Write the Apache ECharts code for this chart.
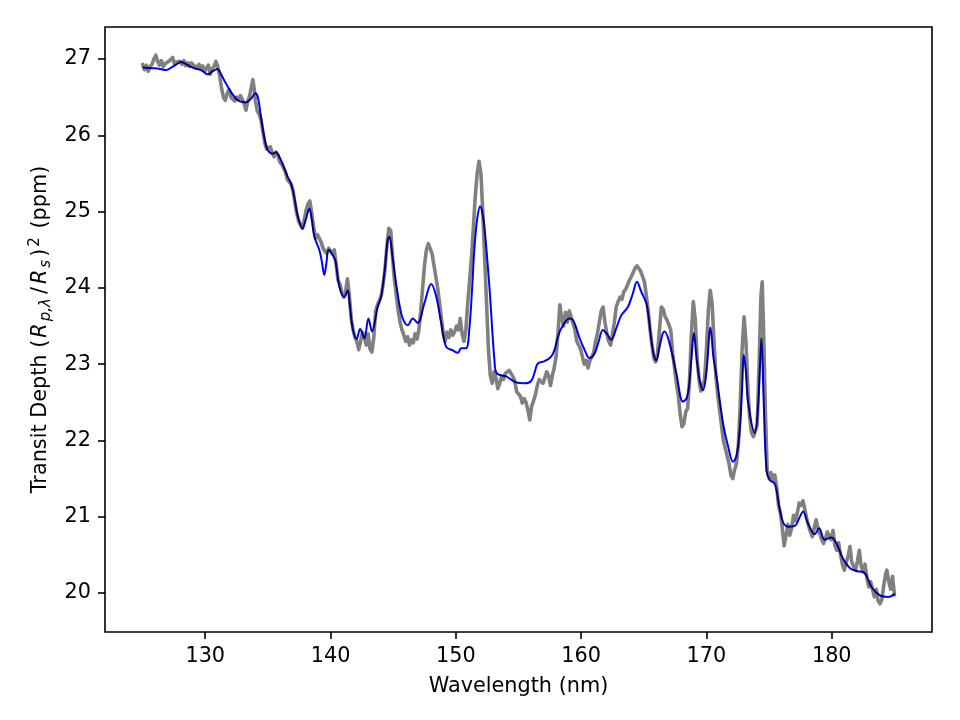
<!DOCTYPE html>
<html>
<head>
<meta charset="utf-8">
<script src="https://cdn.jsdelivr.net/npm/echarts@6/dist/echarts.min.js"></script>
<style>
  html, body { margin: 0; padding: 0; background: #ffffff; }
  #wrap { position: relative; width: 960px; height: 720px; background: #ffffff; }
  #c1, #c2 { position: absolute; left: 0; top: 0; width: 960px; height: 720px; }
  #c2 { mix-blend-mode: multiply; }
</style>
</head>
<body>
<div id="wrap"><div id="c1"></div><div id="c2"></div></div>
<script>
// ---- data ----
const xTicks = [130, 140, 150, 160, 170, 180];
const yTicks = [20, 21, 22, 23, 24, 25, 26, 27];

// observed (gray) spectrum
const grayWavelength = [
125.0,125.15,125.3,125.45,125.6,125.75,125.9,126.05,126.2,126.35,126.5,126.65,126.8,126.95,127.1,127.25,127.4,127.55,127.7,127.85,
128.0,128.15,128.3,128.45,128.6,128.75,128.9,129.05,129.2,129.35,129.5,129.65,129.8,129.95,130.1,130.25,130.4,130.55,130.7,130.85,
131.0,131.15,131.3,131.45,131.6,131.75,131.9,132.05,132.2,132.35,132.5,132.65,132.8,132.95,133.1,133.25,133.4,133.55,133.7,133.8,
133.9,134.0,134.15,134.3,134.45,134.6,134.75,134.9,135.05,135.2,135.35,135.5,135.65,135.8,135.95,136.1,136.25,136.4,136.55,136.7,
136.85,137.0,137.15,137.3,137.45,137.6,137.75,137.9,138.05,138.2,138.35,138.5,138.65,138.8,138.95,139.1,139.25,139.4,139.55,139.7,
139.85,140.0,140.15,140.3,140.45,140.6,140.75,140.9,141.05,141.2,141.35,141.5,141.65,141.8,141.95,142.1,142.25,142.4,142.55,142.7,
142.85,143.0,143.15,143.3,143.45,143.6,143.75,143.9,144.05,144.2,144.35,144.5,144.65,144.8,144.95,145.1,145.25,145.4,145.55,145.7,
145.85,146.0,146.15,146.3,146.45,146.6,146.75,146.9,147.05,147.2,147.35,147.5,147.65,147.8,147.95,148.1,148.25,148.4,148.55,148.7,
148.85,149.0,149.15,149.3,149.45,149.6,149.75,149.9,150.05,150.2,150.35,150.5,150.65,150.8,150.95,151.1,151.25,151.4,151.55,151.7,
151.85,152.0,152.15,152.3,152.45,152.6,152.75,152.9,153.05,153.2,153.35,153.5,153.65,153.8,153.95,154.1,154.25,154.4,154.55,154.7,
154.85,155.0,155.15,155.3,155.45,155.6,155.75,155.9,156.05,156.2,156.35,156.5,156.65,156.8,156.95,157.1,157.25,157.4,157.55,157.7,
157.85,158.0,158.15,158.3,158.45,158.6,158.75,158.9,159.05,159.2,159.35,159.5,159.65,159.8,159.95,160.1,160.25,160.4,160.55,160.7,
160.85,161.0,161.15,161.3,161.45,161.6,161.75,161.9,162.05,162.2,162.35,162.5,162.65,162.8,162.95,163.1,163.25,163.4,163.55,163.7,
163.85,164.0,164.15,164.3,164.45,164.6,164.75,164.9,165.05,165.2,165.35,165.5,165.65,165.8,165.95,166.1,166.25,166.4,166.55,166.7,
166.85,167.0,167.15,167.3,167.45,167.6,167.75,167.9,168.05,168.2,168.35,168.5,168.65,168.8,168.95,169.1,169.25,169.4,169.55,169.7,
169.85,170.0,170.15,170.3,170.45,170.6,170.75,170.9,171.05,171.2,171.35,171.5,171.65,171.8,171.95,172.1,172.25,172.4,172.55,172.7,
172.85,173.0,173.15,173.3,173.45,173.6,173.75,173.9,174.05,174.2,174.35,174.45,174.55,174.7,174.85,175.0,175.15,175.3,175.45,175.6,
175.75,175.9,176.05,176.2,176.35,176.5,176.65,176.8,176.95,177.1,177.25,177.4,177.55,177.7,177.85,178.0,178.15,178.3,178.45,178.6,
178.75,178.9,179.05,179.2,179.35,179.5,179.65,179.8,179.95,180.1,180.25,180.4,180.55,180.7,180.85,181.0,181.15,181.3,181.45,181.6,
181.75,181.9,182.05,182.2,182.35,182.5,182.65,182.8,182.95,183.1,183.25,183.4,183.55,183.7,183.85,184.0,184.15,184.3,184.4,184.55,
184.7,184.85,185.0
];
const grayDepth = [
26.93,26.86,26.92,26.84,26.90,26.93,27.00,27.05,26.97,26.92,26.98,26.90,26.94,26.92,26.97,26.99,27.02,26.93,26.96,26.94,
26.97,26.93,26.98,26.91,26.95,26.90,26.95,26.92,26.94,26.89,26.93,26.88,26.91,26.84,26.86,26.92,26.80,26.87,26.90,26.97,
26.90,26.78,26.62,26.50,26.46,26.55,26.60,26.50,26.52,26.45,26.50,26.47,26.52,26.53,26.42,26.33,26.45,26.52,26.65,26.73,
26.62,26.46,26.32,26.28,26.20,26.05,25.90,25.82,25.83,25.85,25.76,25.72,25.78,25.74,25.65,25.62,25.60,25.52,25.42,25.40,
25.36,25.28,25.12,24.98,24.88,24.82,24.78,24.90,25.02,25.10,25.14,24.98,24.80,24.65,24.70,24.70,24.60,24.52,24.48,24.45,
24.52,24.50,24.45,24.50,24.30,24.10,24.05,23.95,23.88,23.95,24.12,23.90,23.60,23.45,23.35,23.30,23.19,23.30,23.42,23.35,
23.25,23.40,23.20,23.16,23.35,23.70,23.78,23.80,23.90,24.05,24.25,24.55,24.78,24.75,24.40,24.10,23.90,23.70,23.55,23.45,
23.38,23.30,23.36,23.25,23.32,23.28,23.40,23.33,23.45,23.70,24.00,24.30,24.50,24.58,24.58,24.45,24.30,24.15,24.00,23.80,
23.60,23.40,23.30,23.42,23.35,23.45,23.38,23.42,23.50,23.45,23.60,23.40,23.30,23.45,23.80,24.10,24.40,24.80,25.20,25.50,
25.66,25.50,25.00,24.40,23.80,23.20,22.85,22.75,22.90,22.82,22.68,22.75,22.84,22.80,22.88,22.90,22.92,22.88,22.84,22.78,
22.64,22.62,22.58,22.49,22.55,22.50,22.40,22.27,22.45,22.52,22.60,22.72,22.80,22.78,22.75,22.82,22.90,22.85,22.72,22.85,
22.95,23.10,23.40,23.78,23.60,23.50,23.68,23.55,23.70,23.62,23.60,23.45,23.30,23.28,23.20,23.10,23.00,23.05,22.95,23.05,
23.10,23.15,23.30,23.40,23.55,23.70,23.75,23.55,23.40,23.30,23.25,23.40,23.55,23.75,23.82,23.88,23.85,23.95,23.98,24.00,
24.10,24.15,24.20,24.26,24.29,24.28,24.22,24.20,24.08,23.90,23.70,23.45,23.25,23.08,23.03,23.15,23.45,23.75,23.72,23.62,
23.58,23.56,23.45,23.15,22.95,22.75,22.60,22.35,22.18,22.22,22.38,22.42,22.80,23.40,23.82,23.60,23.10,22.80,22.65,22.63,
22.80,23.20,23.70,23.97,23.80,23.30,22.85,22.60,22.40,22.20,22.00,21.90,21.80,21.70,21.55,21.50,21.62,21.70,21.95,22.50,
23.20,23.62,23.30,22.70,22.30,22.10,22.05,22.03,22.20,23.00,23.90,24.08,23.50,22.40,21.60,21.50,21.58,21.48,21.55,21.40,
21.15,21.05,20.85,20.62,20.60,20.90,20.76,20.85,21.02,20.95,21.05,21.18,21.15,21.21,21.10,20.98,20.88,20.80,20.74,20.85,
20.96,20.85,20.78,20.70,20.65,20.72,20.80,20.78,20.70,20.82,20.62,20.56,20.66,20.50,20.38,20.30,20.40,20.48,20.61,20.40,
20.35,20.30,20.42,20.56,20.35,20.28,20.38,20.20,20.08,20.15,20.05,19.95,20.05,19.90,19.86,19.92,20.10,20.25,20.30,20.15,
20.05,20.22,19.98
];

// smoothed (blue) spectrum
const blueWavelength = [
125.0,125.8,126.4,126.86,127.4,127.8,128.06,128.4,128.72,129.12,129.66,130.05,130.2,130.58,130.98,131.2,131.52,132.05,132.58,132.9,
133.2,133.65,133.99,134.2,134.45,134.71,134.98,135.38,135.65,135.91,136.17,136.57,136.84,137.11,137.37,137.77,138.0,138.31,138.5,138.71,
139.1,139.3,139.5,139.65,139.85,140.17,140.4,140.7,141.1,141.37,141.55,141.77,142.08,142.36,142.7,143.02,143.31,143.76,144.03,144.3,
144.56,144.7,144.95,145.23,145.63,145.9,146.16,146.56,146.96,147.49,148.03,148.43,148.83,149.22,149.76,150.16,150.42,150.82,151.09,151.3,
151.49,151.7,151.94,152.1,152.28,152.68,153.08,153.27,154.02,154.82,155.48,156.01,156.3,156.54,157.08,157.61,157.9,158.14,158.55,159.07,
159.34,159.6,159.88,160.27,160.67,161.07,161.4,161.73,162.05,162.4,162.8,163.2,163.73,164.13,164.45,164.8,165.2,165.4,165.6,165.8,
166.0,166.26,166.5,166.66,167.06,167.6,168.12,168.4,168.6,168.79,169.0,169.2,169.46,169.73,170.0,170.32,170.55,170.8,171.33,171.73,
172.12,172.4,172.66,172.85,172.98,173.15,173.33,173.86,174.1,174.25,174.39,174.55,174.79,175.06,175.46,175.85,176.11,176.5,177.05,177.4,
177.71,178.11,178.64,178.99,179.44,179.98,180.38,180.9,181.44,181.97,182.64,183.17,183.84,184.5,185.03
];
const blueDepth = [
26.89,26.88,26.87,26.855,26.90,26.94,26.96,26.94,26.91,26.88,26.855,26.81,26.80,26.84,26.87,26.82,26.72,26.57,26.46,26.44,
26.43,26.48,26.55,26.50,26.24,25.98,25.81,25.76,25.78,25.72,25.63,25.46,25.37,25.19,24.95,24.78,24.88,25.04,24.90,24.67,
24.50,24.35,24.17,24.30,24.50,24.43,24.35,24.02,23.88,23.97,23.75,23.47,23.33,23.46,23.34,23.60,23.43,23.75,23.88,24.20,
24.63,24.67,24.40,24.06,23.67,23.55,23.51,23.60,23.54,23.80,24.05,23.89,23.54,23.23,23.18,23.15,23.21,23.21,23.49,24.00,
24.54,24.90,25.07,25.00,24.80,24.01,23.05,22.88,22.84,22.76,22.75,22.78,22.90,23.01,23.04,23.10,23.20,23.36,23.51,23.60,
23.58,23.48,23.34,23.19,23.08,23.14,23.30,23.45,23.40,23.32,23.47,23.64,23.75,23.93,24.08,23.95,23.80,23.60,23.32,23.12,
23.05,23.23,23.40,23.43,23.27,22.88,22.51,22.55,22.70,23.05,23.41,23.10,22.79,22.66,22.90,23.48,23.10,22.84,22.22,21.92,
21.72,21.80,22.14,22.70,23.12,22.90,22.49,22.10,22.40,22.90,23.34,22.60,21.61,21.48,21.43,21.10,20.93,20.87,20.88,20.98,
21.07,20.91,20.77,20.85,20.70,20.73,20.65,20.45,20.33,20.29,20.26,20.08,19.97,19.95,19.99
];

const grayData = grayWavelength.map((w, i) => [w, grayDepth[i]]);
const blueData = blueWavelength.map((w, i) => [w, blueDepth[i]]);

const FONT = 'DejaVu Sans';
const FS = 20.8;

function baseOption(showAxes) {
  return {
    animation: false,
    backgroundColor: showAxes ? '#ffffff' : 'transparent',
    grid: {
      left: 105, right: 28, top: 27, bottom: 88,
      show: showAxes, borderColor: '#000000', borderWidth: 1.6, backgroundColor: 'transparent'
    },
    xAxis: {
      type: 'value', min: 122, max: 188, show: showAxes,
      name: 'Wavelength (nm)', nameLocation: 'middle', nameGap: 44,
      nameTextStyle: { fontFamily: FONT, fontSize: FS, color: '#000' },
      axisLine: { show: false },
      axisTick: { show: true, inside: false, length: 7, lineStyle: { color: '#000', width: 1.6 }, customValues: xTicks },
      axisLabel: { show: true, margin: 14, fontFamily: FONT, fontSize: FS, color: '#000', customValues: xTicks },
      splitLine: { show: false }
    },
    yAxis: {
      type: 'value', min: 19.49, max: 27.42, show: showAxes,
      name: 'Transit Depth ({it|R}{sub|p,λ}{sl|/}{it|R}{sub|s}{cp|)}{sup|2} (ppm)',
      nameLocation: 'middle', nameGap: 50, nameRotate: 90,
      nameTextStyle: {
        fontFamily: FONT, fontSize: FS, color: '#000', lineHeight: 26,
        rich: {
          it: { fontFamily: FONT, fontSize: FS, fontStyle: 'italic', color: '#000', lineHeight: 26, padding: [0, 1, 0, 2] },
          sub: { fontFamily: FONT, fontSize: 15, fontStyle: 'italic', color: '#000', lineHeight: 12, verticalAlign: 'bottom', padding: [0, 3, 0, 1] },
          sl: { fontFamily: FONT, fontSize: FS, color: '#000', lineHeight: 26, padding: [0, 1, 0, 1] },
          cp: { fontFamily: FONT, fontSize: FS, color: '#000', lineHeight: 26, padding: [0, 1, 0, 0] },
          sup: { fontFamily: FONT, fontSize: 15, color: '#000', lineHeight: 10, verticalAlign: 'top', padding: [0, 2, 0, 1] }
        }
      },
      axisLine: { show: false },
      axisTick: { show: true, inside: false, length: 7, lineStyle: { color: '#000', width: 1.6 }, customValues: yTicks },
      axisLabel: { show: true, margin: 14, fontFamily: FONT, fontSize: FS, color: '#000', customValues: yTicks },
      splitLine: { show: false }
    },
    series: []
  };
}

const opt1 = baseOption(true);
opt1.series = [{
  type: 'line', data: grayData, showSymbol: false, symbol: 'none', smooth: false,
  lineStyle: { color: '#808080', width: 3.6, join: 'round', cap: 'round' },
  silent: true
}];

const opt2 = baseOption(false);
opt2.series = [{
  type: 'line', data: blueData, showSymbol: false, symbol: 'none', smooth: 0.35,
  lineStyle: { color: '#0000ff', width: 2, join: 'round' },
  silent: true
}];

const chart1 = echarts.init(document.getElementById('c1'), null, { renderer: 'canvas' });
chart1.setOption(opt1);
const chart2 = echarts.init(document.getElementById('c2'), null, { renderer: 'canvas' });
chart2.setOption(opt2);
</script>
</body>
</html>
